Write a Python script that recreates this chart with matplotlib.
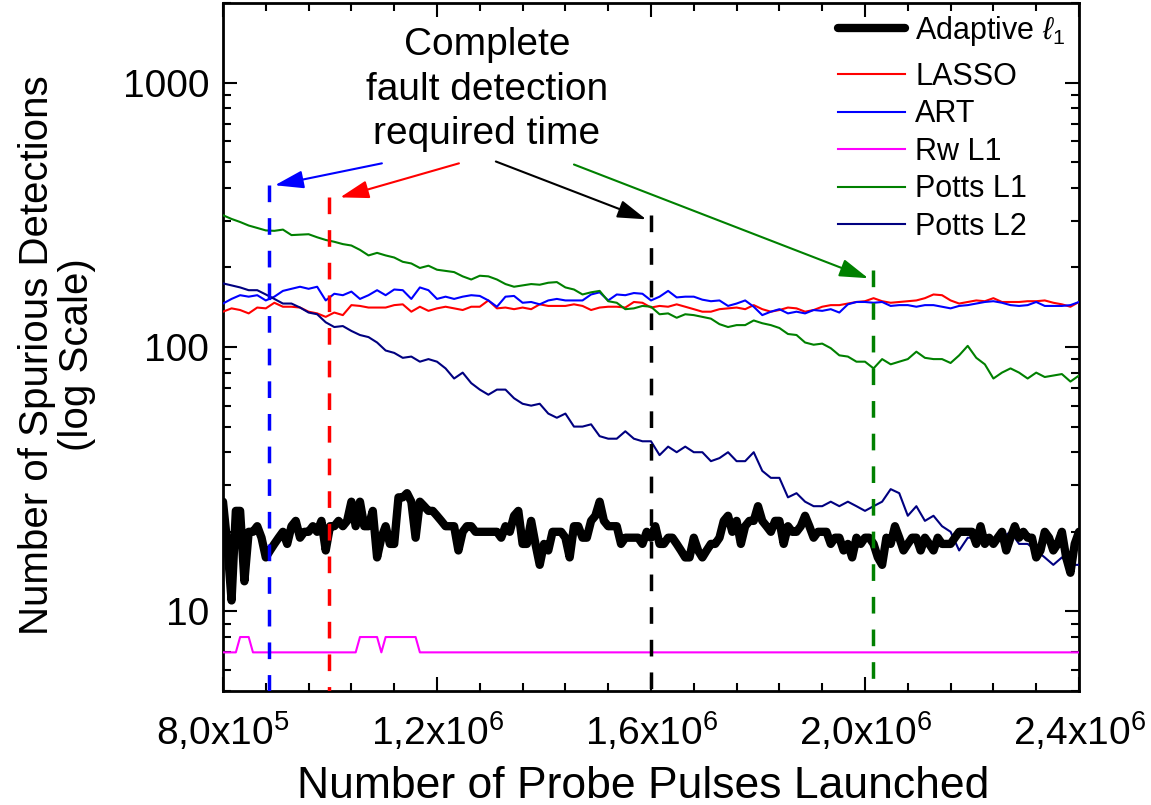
import numpy as np
import matplotlib
matplotlib.use("Agg")
import matplotlib.pyplot as plt
from matplotlib.ticker import MultipleLocator, LogLocator, NullFormatter, FixedLocator, FuncFormatter

plt.rcParams['font.family'] = ['Liberation Sans', 'DejaVu Sans']
plt.rcParams['mathtext.fontset'] = 'custom'
plt.rcParams['mathtext.rm'] = 'Liberation Sans'
plt.rcParams['mathtext.it'] = 'Liberation Sans:italic'
plt.rcParams['mathtext.bf'] = 'Liberation Sans:bold'

# ---------------- data ----------------
x_start = 8.0e5
x_end = 2.4e6

adaptive_step = 8000
adaptive_l1 = [
    26, 18, 11, 24, 24, 13, 20, 20, 21, 19, 16, 17, 18, 19, 20, 18, 21, 22, 19, 20,
    20, 21, 20, 22, 17, 21, 21, 22, 21, 22, 26, 21, 26, 21, 21, 24, 16, 19, 21, 18,
    18, 27, 27, 28, 26, 19, 26, 25, 24, 24, 23, 22, 21, 21, 21, 17, 20, 21, 21, 20,
    20, 20, 20, 20, 20, 19, 21, 20, 23, 24, 18, 18, 22, 18, 15, 18, 17, 20, 20, 20,
    19, 16, 21, 21, 19, 19, 22, 23, 26, 22, 21, 21, 21, 18, 19, 19, 19, 19, 18, 20,
    19, 21, 18, 18, 19, 19, 18, 17, 16, 16, 19, 17, 16, 17, 18, 18, 19, 22, 23, 20,
    22, 18, 21, 22, 22, 25, 22, 21, 20, 22, 22, 18, 21, 20, 20, 21, 23, 21, 19, 20,
    20, 20, 18, 19, 19, 17, 18, 16, 19, 18, 19, 19, 18, 16, 15, 19, 18, 21, 19, 17,
    18, 19, 19, 17, 19, 18, 17, 19, 18, 18, 18, 19, 20, 20, 20, 20, 18, 21, 18, 19,
    18, 19, 20, 17, 19, 21, 19, 20, 19, 19, 16, 17, 20, 19, 17, 18, 20, 16, 14, 18,
    20,
]

line_step = 16000
lasso = [
    136, 140, 138, 134, 141, 140, 147, 142, 142, 141, 136, 134, 130, 135, 132, 144, 143, 141, 141, 141,
    144, 145, 136, 142, 137, 140, 142, 140, 138, 142, 142, 150, 140, 141, 139, 141, 139, 145, 143, 143,
    143, 145, 143, 138, 141, 142, 142, 141, 148, 147, 141, 143, 142, 145, 142, 139, 136, 136, 139, 140,
    141, 139, 144, 139, 136, 138, 141, 140, 136, 138, 142, 144, 144, 146, 148, 149, 153, 149, 147, 148,
    149, 150, 153, 158, 157, 150, 146, 148, 150, 149, 153, 148, 148, 148, 149, 149, 150, 147, 145, 142,
    148,
]
art = [
    146, 152, 157, 155, 157, 150, 155, 163, 166, 169, 166, 169, 150, 159, 157, 162, 152, 157, 164, 157,
    165, 164, 152, 168, 164, 152, 155, 152, 155, 157, 156, 150, 142, 155, 156, 147, 148, 145, 150, 152,
    150, 150, 150, 158, 161, 150, 158, 157, 160, 159, 150, 155, 163, 154, 155, 155, 151, 149, 150, 143,
    146, 150, 142, 132, 136, 139, 134, 136, 134, 138, 137, 139, 135, 145, 148, 148, 147, 148, 143, 144,
    144, 142, 144, 144, 142, 140, 143, 144, 146, 148, 149, 147, 144, 143, 144, 148, 143, 143, 143, 144,
    148,
]
potts_l1 = [
    315, 305, 297, 288, 282, 276, 275, 278, 265, 266, 267, 260, 254, 250, 245, 242, 233, 222, 227, 222,
    218, 210, 207, 199, 203, 196, 194, 192, 185, 180, 186, 185, 180, 173, 169, 171, 173, 172, 175, 176,
    168, 165, 158, 161, 163, 149, 147, 139, 140, 143, 142, 133, 134, 129, 133, 132, 130, 128, 122, 119,
    121, 121, 126, 123, 121, 118, 112, 111, 104, 102, 103, 99, 93, 92, 88, 88, 83, 90, 86, 88,
    90, 96, 91, 90, 90, 87, 93, 101, 91, 86, 76, 80, 83, 80, 76, 80, 77, 78, 79, 74,
    78,
]
potts_l2 = [
    174, 171, 168, 164, 164, 158, 152, 146, 146, 141, 135, 133, 124, 119, 120, 115, 111, 109, 104, 97,
    95, 91, 92, 88, 90, 88, 83, 76, 80, 73, 69, 66, 69, 69, 64, 61, 60, 61, 56, 54,
    56, 50, 50, 51, 46, 45, 45, 48, 45, 44, 44, 39, 42, 40, 42, 40, 40, 37, 38, 40,
    37, 37, 40, 34, 32, 32, 27, 28, 26, 25, 25, 26, 25, 26, 25, 24, 25, 26, 29, 28,
    23, 25, 22, 23, 21, 20, 17, 19, 19, 18, 18, 19, 20, 18, 18, 17, 16, 15, 16, 15,
    15,
]
rw_x = [8.0e5, 8.24e5, 8.32e5, 8.48e5, 8.56e5, 1.048e6, 1.056e6, 1.088e6, 1.096e6,
        1.104e6, 1.160e6, 1.168e6, 2.4e6]
rw_l1 = [7, 7, 8, 8, 7, 7, 8, 8, 7, 8, 8, 7, 7]

# completion-time markers: (x, top value)
mark_x = [8.86e5, 9.98e5, 1.60e6, 2.015e6]
mark_top = [409, 368, 315, 195]
mark_colors = ['#0000ff', '#ff0000', '#000000', '#008000']
# arrows: tail (x, y) -> head (x, y)
arrow_tail_x = [1.097e6, 1.241e6, 1.310e6, 1.456e6]
arrow_tail_y = [495, 495, 503, 490]
arrow_head_x = [8.97e5, 1.019e6, 1.591e6, 2.006e6]
arrow_head_y = [409, 368, 304, 182]

x_adapt = x_start + adaptive_step * np.arange(len(adaptive_l1))
x_line = x_start + line_step * np.arange(len(lasso))

# ---------------- figure ----------------
fig = plt.figure(figsize=(11.51, 8.05), dpi=100)
ax = fig.add_axes([223 / 1151, (805 - 691) / 805, (1079 - 223) / 1151, (691 - 3) / 805])

h_ad, = ax.plot(x_adapt, adaptive_l1, color='black', lw=6.0, label=r'Adaptive $\ell_1$',
                solid_joinstyle='round', solid_capstyle='round', zorder=5)
h_la, = ax.plot(x_line, lasso, color='#ff0000', lw=1.5, label='LASSO', zorder=4)
h_ar, = ax.plot(x_line, art, color='#0000ff', lw=1.5, label='ART', zorder=4)
h_rw, = ax.plot(rw_x, rw_l1, color='#ff00ff', lw=1.5, label='Rw L1', zorder=4)
h_p1, = ax.plot(x_line, potts_l1, color='#008000', lw=1.5, label='Potts L1', zorder=4)
h_p2, = ax.plot(x_line, potts_l2, color='#000080', lw=1.5, label='Potts L2', zorder=4)

ax.set_yscale('log')
ax.set_xlim(x_start, x_end)
ax.set_ylim(5, 2000)

for mx, mt, mc in zip(mark_x, mark_top, mark_colors):
    ax.plot([mx, mx], [mt, 5], color=mc, lw=2.5, dashes=(4.8, 4.6), zorder=6)

for tx, ty, hx, hy, c in zip(arrow_tail_x, arrow_tail_y, arrow_head_x, arrow_head_y, mark_colors):
    ax.annotate('', xy=(hx, hy), xytext=(tx, ty),
                arrowprops=dict(arrowstyle='-|>,head_length=0.8,head_width=0.25',
                                mutation_scale=22, color=c, lw=1.5,
                                shrinkA=0, shrinkB=0), zorder=7)

ax.text(1.2935e6, 940, 'Complete\nfault detection\nrequired time', fontsize=28,
        ha='center', va='center', linespacing=1.3, zorder=8)

# ticks
ax.xaxis.set_major_locator(MultipleLocator(400000))
ax.xaxis.set_minor_locator(MultipleLocator(80000))
xlabels = {8.0e5: r'8,0x10$^{5}$', 1.2e6: r'1,2x10$^{6}$', 1.6e6: r'1,6x10$^{6}$',
           2.0e6: r'2,0x10$^{6}$', 2.4e6: r'2,4x10$^{6}$'}

def xfmt(v, pos):
    for k, s in xlabels.items():
        if abs(v - k) < 1:
            return s
    return ''

ax.xaxis.set_major_formatter(FuncFormatter(xfmt))
ax.yaxis.set_major_locator(FixedLocator([10, 100, 1000]))
ax.yaxis.set_major_formatter(FuncFormatter(lambda v, p: '%d' % round(v)))
ax.yaxis.set_minor_locator(LogLocator(base=10, subs=np.arange(2, 10)))
ax.yaxis.set_minor_formatter(NullFormatter())

ax.tick_params(which='both', direction='in', top=True, right=True, width=1.5)
ax.tick_params(which='major', length=10, labelsize=28)
ax.tick_params(which='minor', length=6)
ax.tick_params(axis='x', which='major', pad=14)
ax.tick_params(axis='y', which='major', pad=10)
for s in ax.spines.values():
    s.set_linewidth(2.0)

fig.text(643 / 1151, 1 - 798 / 805, 'Number of Probe Pulses Launched', fontsize=32,
         ha='center', va='baseline')
fig.text(57 / 1151, 1 - 355 / 805, 'Number of Spurious Detections\n(log Scale)', fontsize=29,
         ha='center', va='center', rotation=90, linespacing=1.05)

leg1 = ax.legend(handles=[h_ad], loc='upper left',
                 bbox_to_anchor=((838 - 223) / 856, (691 - 14) / 688),
                 frameon=False, fontsize=22, handlelength=2.2, handletextpad=0.33,
                 borderpad=0, borderaxespad=0)
ax.add_artist(leg1)
leg2 = ax.legend(handles=[h_la, h_ar, h_rw, h_p1, h_p2], loc='upper left',
                 bbox_to_anchor=((838 - 223) / 856, (691 - 62) / 688),
                 frameon=False, fontsize=22, handlelength=2.2, handletextpad=0.33,
                 labelspacing=0.245, borderpad=0, borderaxespad=0)

fig.savefig('out.png', dpi=100)
